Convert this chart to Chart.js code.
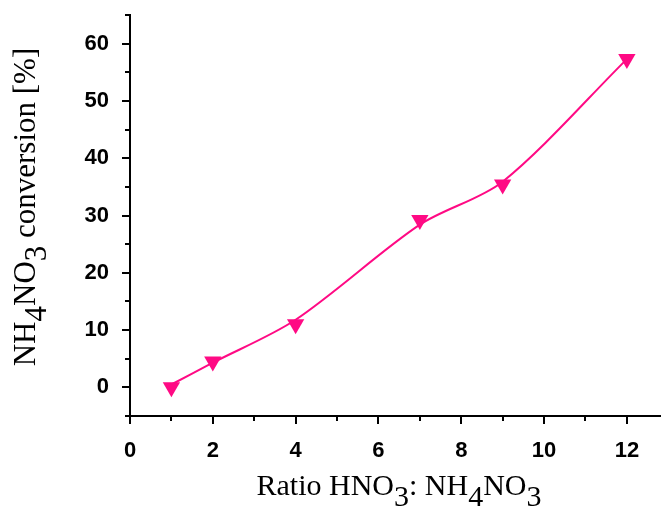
<!DOCTYPE html>
<html>
<head>
<meta charset="utf-8">
<script src="https://cdn.jsdelivr.net/npm/chart.js@4/dist/chart.umd.min.js"></script>
<style>
  html, body { margin: 0; padding: 0; background: #fff; }
  #wrap { width: 661px; height: 510px; position: relative; }
</style>
</head>
<body>
<div id="wrap"><canvas id="convChart"></canvas></div>
<script>
// ratio HNO3 : NH4NO3 and measured conversion (%)
const ratios = [1, 2, 4, 7, 9, 12]
const conversion = [0, 4.5, 11, 29.2, 35.4, 57.3]
// smoothed fit curve, read at the same ratios
const fitCurve = [0.5, 4.3, 11.8, 28.4, 35.9, 57.3]

// axis limits and tick steps
const xMin = 0, xMax = 12.8, xStep = 1, xLabelEvery = 2
const yMin = -5, yMax = 65, yStep = 5, yLabelEvery = 10

// axis titles, pieces marked sub are drawn lowered
const xTitle = [{t: "Ratio HNO"}, {t: "3", sub: true}, {t: ": NH"}, {t: "4", sub: true}, {t: "NO"}, {t: "3", sub: true}]
const yTitle = [{t: "NH"}, {t: "4", sub: true}, {t: "NO"}, {t: "3", sub: true}, {t: " conversion [%]"}]

const pink = "#ff0a84"
const subShift = 11

// draws text with subscripts, centred on (x, y) baseline
function drawRich(ctx, segs, x, y, rot, size){
    ctx.save()
    ctx.font = size + 'px "Liberation Serif", "Times New Roman", serif'
    ctx.fillStyle = "#000"
    ctx.textBaseline = "alphabetic"
    ctx.textAlign = "left"
    let total = 0
    segs.forEach(s => total += ctx.measureText(s.t).width)
    ctx.translate(x, y)
    ctx.rotate(rot)
    let cx = -total / 2
    segs.forEach(s => {
        ctx.fillText(s.t, cx, s.sub ? subShift : 0)
        cx += ctx.measureText(s.t).width
    })
    ctx.restore()
}

// axis lines, major/minor tick marks and titles
const axesPlugin = {
    id: "axesPlugin",
    afterDraw(chart){
        const ctx = chart.ctx
        const a = chart.chartArea
        const xs = chart.scales.x
        const ys = chart.scales.y

        ctx.save()
        ctx.strokeStyle = "#000"
        ctx.lineWidth = 2
        ctx.lineCap = "square"

        ctx.beginPath()
        ctx.moveTo(a.left, a.top)
        ctx.lineTo(a.left, a.bottom)
        ctx.lineTo(a.right, a.bottom)
        ctx.stroke()

        ctx.beginPath()
        ctx.lineCap = "butt"
        xs.ticks.forEach(t => {
            const px = Math.round(xs.getPixelForValue(t.value))
            const len = (t.value % xLabelEvery === 0) ? 8 : 5
            ctx.moveTo(px, a.bottom)
            ctx.lineTo(px, a.bottom + len)
        })
        ys.ticks.forEach(t => {
            const py = Math.round(ys.getPixelForValue(t.value))
            const len = (t.value % yLabelEvery === 0) ? 8 : 5
            ctx.moveTo(a.left, py)
            ctx.lineTo(a.left - len, py)
        })
        ctx.stroke()
        ctx.restore()

        drawRich(ctx, xTitle, 399, 495, 0, 30)
        drawRich(ctx, yTitle, 35, 207, -Math.PI / 2, 31)
    }
}

// fixed axis boxes so the plot area lands where wanted
function noPad(scale){
    scale.paddingLeft = 0
    scale.paddingRight = 0
    scale.paddingTop = 0
    scale.paddingBottom = 0
}
function fixX(scale){
    scale.height = 94
    noPad(scale)
}
function fixY(scale){
    scale.width = 130
    noPad(scale)
}

const tickFont = {family: '"Liberation Sans", Arial, sans-serif', size: 22, weight: "bold"}

new Chart(document.getElementById("convChart").getContext("2d"), {

    type: "scatter",

    data: {
        datasets: [{
            // measured points
            data: ratios.map((r, i) => ({x: r, y: conversion[i]})),
            showLine: false,
            pointStyle: "triangle",
            rotation: 180,
            pointRadius: 10,
            pointHoverRadius: 10,
            pointBackgroundColor: pink,
            pointBorderColor: pink,
            pointBorderWidth: 0
        }, {
            // fitted curve
            data: ratios.map((r, i) => ({x: r, y: fitCurve[i]})),
            showLine: true,
            borderColor: pink,
            borderWidth: 2,
            tension: 0.3,
            pointRadius: 0,
            pointHoverRadius: 0
        }]
    },

    options: {
        responsive: true,
        maintainAspectRatio: false,
        animation: false,
        events: [],
        layout: {autoPadding: false, padding: {top: 15, right: 1, left: 0, bottom: 0}},
        plugins: {
            legend: {display: false},
            tooltip: {enabled: false}
        },
        scales: {
            x: {
                type: "linear",
                min: xMin,
                max: xMax,
                afterFit: fixX,
                grid: {display: false},
                border: {display: false},
                ticks: {
                    stepSize: xStep,
                    includeBounds: false,
                    autoSkip: false,
                    maxRotation: 0,
                    padding: 14,
                    color: "#000",
                    font: tickFont,
                    callback: v => (v % xLabelEvery === 0) ? String(v) : ""
                }
            },
            y: {
                min: yMin,
                max: yMax,
                afterFit: fixY,
                grid: {display: false},
                border: {display: false},
                ticks: {
                    stepSize: yStep,
                    autoSkip: false,
                    padding: 13,
                    color: "#000",
                    font: tickFont,
                    callback: v => (v % yLabelEvery === 0) ? String(v) : ""
                }
            }
        }
    },

    plugins: [axesPlugin]

})
</script>
</body>
</html>
